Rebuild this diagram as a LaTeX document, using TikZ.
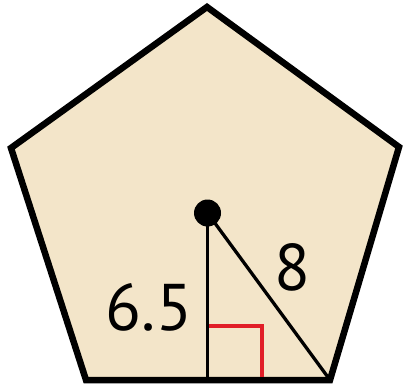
\documentclass[tikz,border=0pt]{standalone}
\usepackage{fontspec}
\setmainfont{PT Sans}
\definecolor{penfill}{RGB}{243,229,201}
\definecolor{angred}{RGB}{225,30,40}
\tikzset{
  outline/.style={draw=black, line width=6.5pt, fill=penfill, line join=miter},
  seg/.style={draw=black, line width=3.3pt},
  rightmark/.style={draw=angred, line width=3.3pt},
  lab/.style={font=\fontsize{66}{66}\selectfont, inner sep=0pt},
  centerdot/.style={circle, fill=black, inner sep=0pt, minimum size=27pt}
}
\begin{document}
\begin{tikzpicture}[x=1pt,y=-1pt]
\useasboundingbox (0,0) rectangle (403,387);
\coordinate (T) at (207,7);
\coordinate (UL) at (11,148);
\coordinate (UR) at (399,147);
\coordinate (BL) at (86,380);
\coordinate (BR) at (330,380);
\coordinate (F) at (207.5,380);
\coordinate (A1) at (207.5,326);
\coordinate (A2) at (262,326);
\coordinate (A3) at (262,382);
\path[outline] (T) -- (UR) -- (BR) -- (BL) -- (UL) -- cycle;
\node[centerdot] (C) at (207.5,213) {};
\draw[seg] (C.center) -- (F);
\draw[seg] (C.center) -- (BR);
\draw[rightmark] (A1) -- (A2) -- (A3);
\draw[seg] (C.center) -- (F);
\draw[draw=black, line width=6.5pt] (BL) -- (BR);
\node[lab] (h) at (149,307) {6.5};
\node[lab] (r) at (292,267) {8};
\end{tikzpicture}
\end{document}
